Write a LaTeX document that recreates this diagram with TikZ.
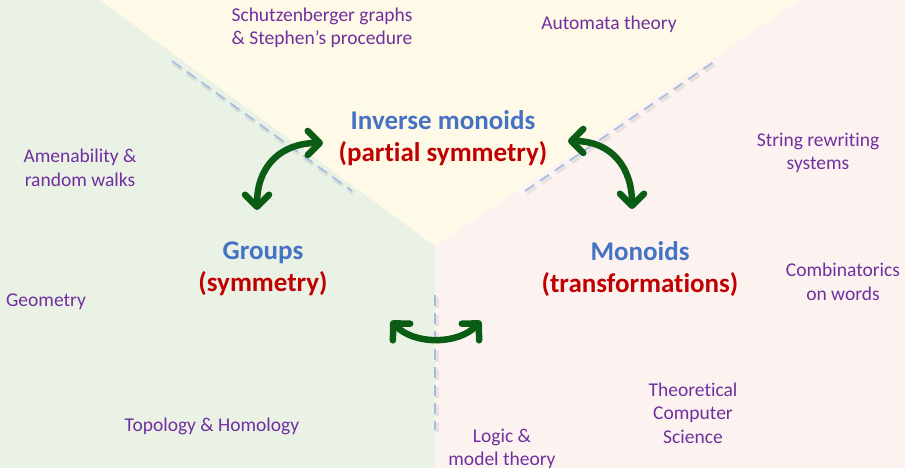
\documentclass[tikz,border=0pt]{standalone}
\usepackage{fontspec}
\setmainfont{Carlito}[Ligatures=NoCommon]
\usetikzlibrary{arrows.meta}

\definecolor{zoneyellow}{HTML}{FFF9E7}
\definecolor{zonegreen}{HTML}{EAF1E5}
\definecolor{zonepink}{HTML}{FCF3F0}
\definecolor{headblue}{HTML}{4472C4}
\definecolor{headred}{HTML}{C00000}
\definecolor{topicpurple}{HTML}{7030A0}
\definecolor{linkgreen}{HTML}{0B5C14}
\definecolor{borderblue}{HTML}{A3BCE3}

\begin{document}
\begin{tikzpicture}[
  x=1pt, y=-1pt,
  head/.style={align=center, font=\bfseries\fontsize{27}{32}\selectfont},
  topic/.style={align=center, text=topicpurple, font=\fontsize{19.5}{23.5}\selectfont},
  border/.style={draw=borderblue, line width=1.6pt, dash pattern=on 11pt off 7pt},
  bordershade/.style={draw=black, opacity=0.07, line width=4pt, dash pattern=on 11pt off 7pt},
  link/.style={draw=linkgreen, line width=6.5pt, line cap=round,
    {Straight Barb[length=12pt, width=24pt, line cap=round, line join=round]}-{Straight Barb[length=12pt, width=24pt, line cap=round, line join=round]}}
]
\useasboundingbox (0,0) rectangle (905,468);

% three zones
\fill[zonegreen] (0,0) -- (100,0) -- (435,246) -- (435,468) -- (0,468) -- cycle;
\fill[zoneyellow] (100,0) -- (435,246) -- (800,0) -- cycle;
\fill[zonepink] (800,0) -- (905,0) -- (905,468) -- (435,468) -- (435,246) -- cycle;

% dashed borders
\draw[bordershade] (173,63) -- (353,193);
\draw[bordershade] (527,193) -- (717,63);
\draw[bordershade] (437,297) -- (437,432);
\draw[border] (172,61) -- (352,191);
\draw[border] (525,191) -- (715,61);
\draw[border] (435,295) -- (435,430);

% main nodes
\node[head] (inverse) at (443,138) {{\color{headblue}Inverse monoids}\\{\color{headred}(partial symmetry)}};
\node[head] (groups) at (263,269) {{\color{headblue}Groups}\\{\color{headred}(symmetry)}};
\node[head] (monoids) at (640,269) {{\color{headblue}Monoids}\\{\color{headred}(transformations)}};

% topics
\node[topic] (schutz) at (322,28) {Schutzenberger graphs\\\& Stephen’s procedure};
\node[topic] (automata) at (609,24) {Automata theory};
\node[topic] (amenab) at (80,168) {Amenability \&\\random walks};
\node[topic] (string) at (818,153) {String rewriting\\systems};
\node[topic] (geometry) at (46,302) {Geometry};
\node[topic] (combin) at (843,282) {Combinatorics\\on words};
\node[topic] (topology) at (212,426) {Topology \& Homology};
\node[topic] (tcs) at (693,413) {Theoretical\\Computer\\Science};
\node[topic] (logic) at (502,449) {Logic \&\\model theory};

% arrow ends
\coordinate (gi) at (257,210);
\coordinate (ig) at (323,143);
\coordinate (im) at (568,141);
\coordinate (mi) at (632,209);
\coordinate (gm) at (391,321);
\coordinate (mg) at (481,321);

% curved links
\draw[link] (gi) .. controls (257,165) and (282,143) .. (ig);
\draw[link] (im) .. controls (612,141) and (632,168) .. (mi);
\draw[link] (gm) .. controls (414,345) and (458,345) .. (mg);
\end{tikzpicture}
\end{document}
